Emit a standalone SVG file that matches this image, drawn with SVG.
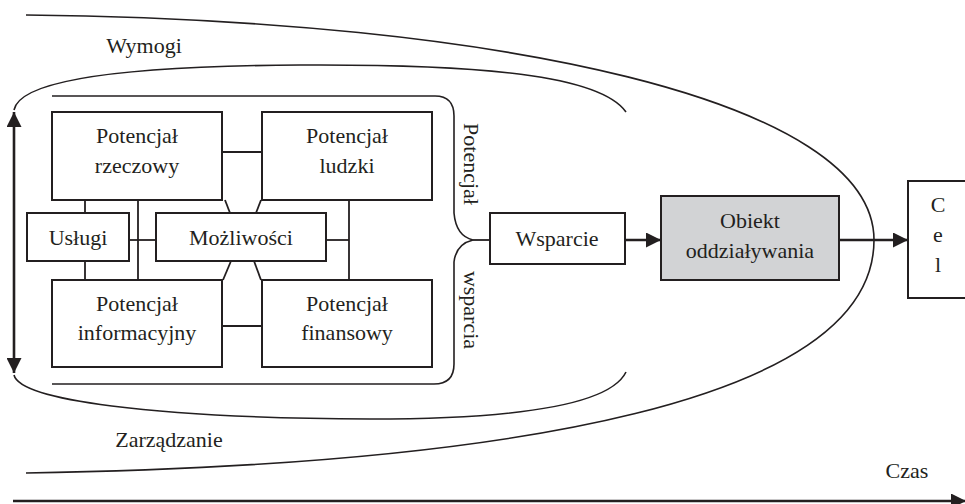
<svg xmlns="http://www.w3.org/2000/svg" width="965" height="504" viewBox="0 0 965 504">
<style>
text{font-family:"Liberation Serif","Times New Roman",serif;font-size:22px;fill:#231f20}
.c{text-anchor:middle}
.box{fill:#fff;stroke:#231f20;stroke-width:2}
.ln{fill:none;stroke:#231f20;stroke-width:1.8}
.cv{fill:none;stroke:#231f20;stroke-width:1.6}
.ar{fill:none;stroke:#231f20;stroke-width:2.6}
</style>
<defs>
<marker id="ah" markerUnits="userSpaceOnUse" markerWidth="15" markerHeight="15" refX="14" refY="7" orient="auto-start-reverse" viewBox="0 0 14 14">
<path d="M0,0 L14,7 L0,14 z" fill="#231f20"/>
</marker>
</defs>
<rect width="965" height="504" fill="#fff"/>
<g id="bands">
<path class="cv" d="M26,15 C500,20 874,100 874,240 C874,400 520,465 26,473"/>
<path class="cv" d="M14,110 C20,80 120,66 300,65 C480,64 600,75 626,112"/>
<path class="cv" d="M14,375 C20,400 150,418 370,419 C520,419 610,405 626,372"/>
<path class="cv" d="M52,96 L435,96 Q454,96 454,116 L454,213 Q456,236 473,240 Q456,244 454,262 L454,364 Q454,384 434,384 L52,384"/>
<text x="144" y="53" class="c">Wymogi</text>
<text x="169" y="447" class="c">Zarządzanie</text>
<text x="907" y="478" class="c">Czas</text>
<text class="c" transform="translate(464,164) rotate(90)">Potencjał</text>
<text class="c" transform="translate(464,310) rotate(90)">wsparcia</text>
</g>
<g id="connectors">
<line class="ln" x1="222" y1="152" x2="262" y2="152"/>
<line class="ln" x1="222" y1="326" x2="262" y2="326"/>
<line class="ln" x1="85" y1="200" x2="85" y2="213"/>
<line class="ln" x1="85" y1="261" x2="85" y2="280"/>
<line class="ln" x1="138" y1="200" x2="138" y2="280"/>
<line class="ln" x1="129" y1="240" x2="156" y2="240"/>
<line class="ln" x1="349" y1="200" x2="349" y2="280"/>
<line class="ln" x1="326" y1="240" x2="349" y2="240"/>
<line class="ln" x1="225" y1="200" x2="230" y2="213"/>
<line class="ln" x1="261" y1="200" x2="256" y2="213"/>
<line class="ln" x1="231" y1="261" x2="223" y2="280"/>
<line class="ln" x1="254" y1="261" x2="261" y2="280"/>
<line class="ln" x1="473" y1="240" x2="490" y2="240"/>
<line class="ar" x1="625" y1="240" x2="661" y2="240" marker-end="url(#ah)"/>
<line class="ar" x1="839" y1="240" x2="908" y2="240" marker-end="url(#ah)"/>
<line class="ar" x1="14" y1="373" x2="14" y2="112" marker-start="url(#ah)" marker-end="url(#ah)"/>
<line class="ar" x1="13" y1="501" x2="966" y2="501" marker-end="url(#ah)"/>
</g>
<g id="rzeczowy">
<rect class="box" x="52" y="112" width="170" height="88"/>
<text x="137" y="143" class="c">Potencjał</text>
<text x="137" y="173" class="c">rzeczowy</text>
</g>
<g id="ludzki">
<rect class="box" x="262" y="112" width="170" height="88"/>
<text x="347" y="143" class="c">Potencjał</text>
<text x="347" y="173" class="c">ludzki</text>
</g>
<g id="uslugi">
<rect class="box" x="27" y="213" width="102" height="48"/>
<text x="78" y="245" class="c">Usługi</text>
</g>
<g id="mozliwosci">
<rect class="box" x="156" y="213" width="170" height="48"/>
<text x="241" y="245" class="c">Możliwości</text>
</g>
<g id="informacyjny">
<rect class="box" x="52" y="280" width="170" height="87"/>
<text x="137" y="311" class="c">Potencjał</text>
<text x="137" y="340" class="c">informacyjny</text>
</g>
<g id="finansowy">
<rect class="box" x="262" y="280" width="170" height="87"/>
<text x="347" y="311" class="c">Potencjał</text>
<text x="347" y="340" class="c">finansowy</text>
</g>
<g id="wsparcie">
<rect class="box" x="490" y="213" width="135" height="51"/>
<text x="557" y="246" class="c">Wsparcie</text>
</g>
<g id="obiekt">
<rect class="box" x="661" y="196" width="178" height="84" style="fill:#d2d3d5"/>
<text x="750" y="228" class="c">Obiekt</text>
<text x="750" y="258" class="c">oddziaływania</text>
</g>
<g id="cel">
<rect class="box" x="908" y="181" width="70" height="117"/>
<text x="938" y="212" class="c">C</text>
<text x="938" y="242" class="c">e</text>
<text x="938" y="272" class="c">l</text>
</g>
</svg>
